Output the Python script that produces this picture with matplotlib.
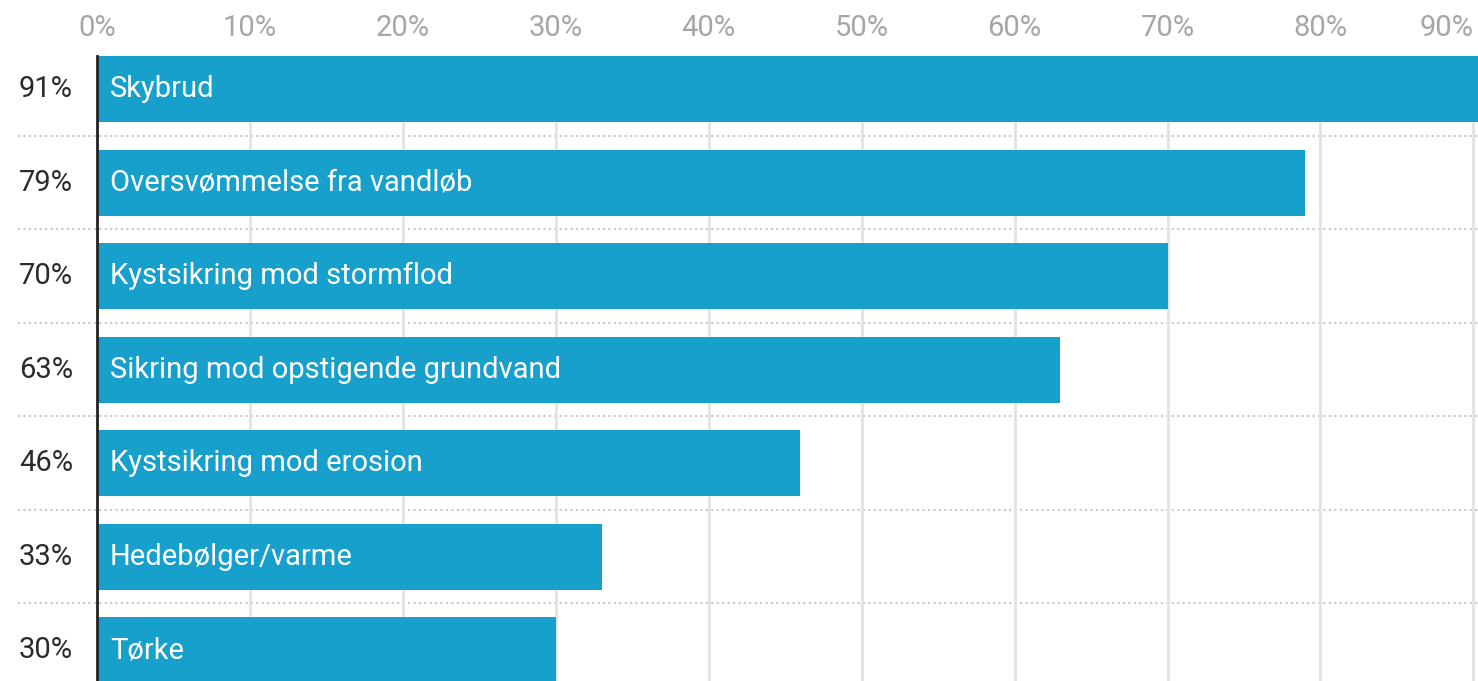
import matplotlib.pyplot as plt
import matplotlib.ticker as tkr

categories = ['Skybrud', 'Oversvømmelse fra vandløb', 'Kystsikring mod stormflod',
              'Sikring mod opstigende grundvand', 'Kystsikring mod erosion',
              'Hedebølger/varme', 'Tørke']
values = [91, 79, 70, 63, 46, 33, 30]
ticks = [0, 10, 20, 30, 40, 50, 60, 70, 80, 90]

plt.rcParams['font.family'] = ['Roboto', 'DejaVu Sans']

W, H = 1478, 681
fig = plt.figure(figsize=(W / 100, H / 100), dpi=100)
ax = fig.add_axes([97 / W, 0, (W - 97) / W, (H - 56) / H])

bar_h = 0.706
ypos = list(range(len(values)))
ax.barh(ypos, values, height=bar_h, color='#18a0cc', zorder=2)

ax.set_xlim(0, 90.3)
ax.set_ylim(6.33, -bar_h / 2)

# top tick labels
ax.xaxis.tick_top()
ax.set_xticks(ticks)
ax.xaxis.set_major_formatter(tkr.FuncFormatter(lambda x, pos: '%d%%' % x))
ax.tick_params(axis='x', length=0, pad=10, labelsize=21, labelcolor='#a6a6a6')
ax.get_xticklabels()[-1].set_horizontalalignment('right')
ax.set_yticks([])
ax.grid(axis='x', color='#e3e3e3', linewidth=2, zorder=0)

for s in ['top', 'right', 'bottom']:
    ax.spines[s].set_visible(False)
ax.spines['left'].set_linewidth(2)
ax.spines['left'].set_color('#222222')
ax.spines['left'].set_zorder(3)

# dotted row separators
trans = ax.get_yaxis_transform()
for i in range(len(values) - 1):
    ax.plot([-79 / (W - 97), 1], [i + 0.5, i + 0.5], transform=trans, clip_on=False,
            color='#c8c8c8', linewidth=1.5, linestyle=(0, (1, 1.6)), zorder=1)

for i, (c, v) in enumerate(zip(categories, values)):
    ax.text(0.85, i, c, va='center', ha='left', color='white', fontsize=21, zorder=4)
    ax.text(-24 / (W - 97), i, '%d%%' % v, transform=trans, va='center', ha='right',
            color='#2b2b2b', fontsize=21)

plt.savefig('out.png', dpi=100)
